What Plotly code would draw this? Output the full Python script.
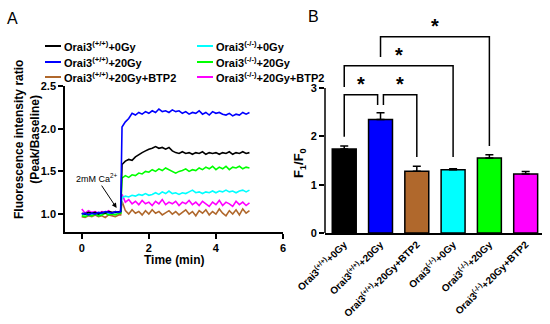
import plotly.graph_objects as go

# ---------------- data ----------------
time_min = [0.0, 0.1, 0.2, 0.3, 0.4, 0.5, 0.6, 0.7, 0.8, 0.9, 1.0, 1.1, 1.16,
            1.2, 1.3, 1.4, 1.5, 1.6, 1.7, 1.8, 1.9, 2.0, 2.1, 2.2, 2.3, 2.4, 2.5,
            2.6, 2.7, 2.8, 2.9, 3.0, 3.1, 3.2, 3.3, 3.4, 3.5, 3.6, 3.7, 3.8, 3.9,
            4.0, 4.1, 4.2, 4.3, 4.4, 4.5, 4.6, 4.7, 4.8, 4.9, 5.0]

wt_0gy = [1.01, 1.00, 1.02, 1.01, 1.02, 1.00, 1.02, 1.01, 1.03, 1.02, 1.02, 1.03, 1.03,
          1.58, 1.62, 1.64, 1.63, 1.67, 1.70, 1.72, 1.74, 1.76, 1.77, 1.79, 1.77, 1.78, 1.76,
          1.78, 1.74, 1.72, 1.71, 1.73, 1.71, 1.72, 1.70, 1.72, 1.71, 1.73, 1.70, 1.72, 1.71,
          1.72, 1.70, 1.72, 1.71, 1.73, 1.70, 1.72, 1.71, 1.73, 1.71, 1.72]
wt_20gy = [1.00, 1.01, 0.99, 1.01, 1.00, 1.02, 1.01, 1.03, 1.02, 1.01, 1.03, 1.02, 1.03,
           2.02, 2.08, 2.12, 2.18, 2.16, 2.19, 2.17, 2.20, 2.18, 2.21, 2.19, 2.23, 2.20, 2.21,
           2.19, 2.22, 2.20, 2.21, 2.18, 2.20, 2.17, 2.19, 2.18, 2.21, 2.17, 2.19, 2.16, 2.20,
           2.18, 2.19, 2.17, 2.16, 2.18, 2.15, 2.17, 2.16, 2.19, 2.17, 2.19]
wt_20gy_btp2 = [0.97, 0.96, 0.98, 0.97, 0.99, 0.97, 0.98, 0.96, 0.99, 0.98, 0.97, 0.99, 0.99,
                1.15, 1.04, 1.00, 1.05, 1.01, 1.03, 0.99, 1.04, 1.00, 1.05, 1.01, 1.03, 0.99, 1.02,
                1.04, 1.00, 1.03, 0.99, 1.02, 1.05, 1.00, 1.03, 0.98, 1.04, 1.01, 1.05, 0.99, 1.03,
                1.00, 1.06, 1.01, 0.98, 1.04, 1.00, 1.05, 0.99, 1.06, 1.01, 1.04]
ko_0gy = [1.00, 0.99, 1.01, 1.00, 1.01, 0.99, 1.00, 1.02, 1.00, 1.01, 1.02, 1.01, 1.02,
          1.19, 1.21, 1.20, 1.22, 1.21, 1.23, 1.22, 1.24, 1.22, 1.23, 1.25, 1.23, 1.26, 1.24,
          1.27, 1.24, 1.25, 1.23, 1.25, 1.24, 1.26, 1.28, 1.25, 1.26, 1.24, 1.26, 1.25, 1.27,
          1.25, 1.27, 1.26, 1.28, 1.26, 1.27, 1.25, 1.27, 1.28, 1.26, 1.28]
ko_20gy = [0.98, 0.97, 0.99, 0.98, 1.00, 0.98, 0.99, 1.01, 0.99, 1.00, 0.99, 1.01, 1.01,
           1.42, 1.45, 1.43, 1.46, 1.45, 1.48, 1.47, 1.50, 1.49, 1.52, 1.50, 1.53, 1.51, 1.54,
           1.52, 1.50, 1.48, 1.50, 1.51, 1.53, 1.50, 1.52, 1.51, 1.54, 1.52, 1.55, 1.53, 1.56,
           1.52, 1.55, 1.53, 1.56, 1.52, 1.55, 1.54, 1.56, 1.53, 1.55, 1.54]
ko_20gy_btp2 = [1.06, 1.01, 1.04, 1.02, 1.03, 1.01, 1.03, 1.02, 1.04, 1.01, 1.03, 1.02, 1.04,
                1.23, 1.14, 1.17, 1.12, 1.15, 1.11, 1.16, 1.12, 1.14, 1.10, 1.15, 1.12, 1.17, 1.11,
                1.14, 1.12, 1.15, 1.10, 1.14, 1.12, 1.16, 1.11, 1.14, 1.10, 1.15, 1.12, 1.09, 1.14,
                1.11, 1.16, 1.10, 1.14, 1.12, 1.09, 1.15, 1.11, 1.14, 1.10, 1.13]

group_labels = ["Orai3<sup>(+/+)</sup>+0Gy", "Orai3<sup>(+/+)</sup>+20Gy",
                "Orai3<sup>(+/+)</sup>+20Gy+BTP2", "Orai3<sup>(-/-)</sup>+0Gy",
                "Orai3<sup>(-/-)</sup>+20Gy", "Orai3<sup>(-/-)</sup>+20Gy+BTP2"]
bar_means = [1.74, 2.35, 1.28, 1.31, 1.55, 1.22]
bar_sem = [0.06, 0.14, 0.10, 0.02, 0.07, 0.05]

# significance brackets: (left group, right group, top, left leg bottom, right leg bottom)
brackets = [(0, 0.92, 2.86, 1.99, 2.65),
            (1.08, 2, 2.86, 2.65, 1.57),
            (0, 3, 3.46, 3.02, 1.57),
            (1, 4, 4.06, 3.64, 1.80)]

colors = ["#000000", "#0000FF", "#B0682C", "#00FFFF", "#00FF00", "#FF00FF"]
series = [wt_0gy, wt_20gy, wt_20gy_btp2, ko_0gy, ko_20gy, ko_20gy_btp2]

W, H = 550, 324
def px(x):
    return x / W
def py(y):
    return 1 - y / H

FONT = "Liberation Sans, Arial, sans-serif"

fig = go.Figure()

# ---------- panel A: time courses ----------
draw_order = [2, 5, 3, 4, 0, 1]
for i in draw_order:
    fig.add_trace(go.Scatter(x=time_min, y=series[i], mode="lines",
                             line=dict(color=colors[i], width=1.6),
                             xaxis="x", yaxis="y", showlegend=False))

# ---------- panel B: bars ----------
fig.add_trace(go.Bar(x=list(range(6)), y=bar_means, width=0.66,
                     marker=dict(color=colors, line=dict(color="black", width=1.5)),
                     error_y=dict(type="data", array=bar_sem, arrayminus=[0] * 6,
                                  symmetric=False, color="black", thickness=1.5, width=4),
                     xaxis="x2", yaxis="y2", showlegend=False))

shapes = []
for (x0, x1, top, b0, b1) in brackets:
    shapes.append(dict(type="path", xref="x2", yref="y2",
                       path=f"M {x0},{b0} L {x0},{top} L {x1},{top} L {x1},{b1}",
                       line=dict(color="black", width=1.5)))
# y axis line of panel B only from 0 to 3
shapes.append(dict(type="line", xref="x2 domain", yref="y2", x0=0, x1=0, y0=0, y1=3,
                   line=dict(color="black", width=1.5)))

annotations = []
for (x0, x1, top, b0, b1) in brackets:
    annotations.append(dict(x=(x0 + x1) / 2, y=top, xref="x2", yref="y2", text="<b>*</b>",
                            showarrow=False, xanchor="center", yanchor="bottom", yshift=-2,
                            font=dict(family=FONT, size=20, color="black")))

# legend drawn by hand
legend_pos = [(45, 46), (45, 62), (45, 77), (197, 46), (197, 62), (197, 77)]
for i, (lx, ly) in enumerate(legend_pos):
    shapes.append(dict(type="line", xref="paper", yref="paper",
                       x0=px(lx), x1=px(lx + 16), y0=py(ly), y1=py(ly),
                       line=dict(color=colors[i], width=2)))
    annotations.append(dict(x=px(lx + 17), y=py(ly), xref="paper", yref="paper",
                            text=group_labels[i], showarrow=False, xanchor="left",
                            yanchor="middle",
                            font=dict(family=FONT, size=11, color="black", weight="bold")))

# arrow annotation
annotations.append(dict(x=1.04, y=1.07, xref="x", yref="y", text="2mM Ca<sup>2+</sup>",
                        showarrow=True, arrowhead=2, arrowsize=1, arrowwidth=1,
                        arrowcolor="black", ax=-20, ay=-30,
                        font=dict(family=FONT, size=9, color="black")))

def label(x, y, text, size, bold=True, angle=0):
    f = dict(family=FONT, size=size, color="black")
    if bold:
        f["weight"] = "bold"
    return dict(x=px(x), y=py(y), xref="paper", yref="paper", text=text,
                showarrow=False, xanchor="center", yanchor="middle",
                textangle=angle, font=f)

annotations.append(label(12, 18, "A", 16, bold=False))
annotations.append(label(313, 16, "B", 16, bold=False))
annotations.append(label(27, 140, "Fluorescence intensity ratio<br>(Peak/Baseline)", 12, angle=-90))
annotations.append(label(174, 260, "Time (min)", 12))
annotations.append(label(299, 163, "F<sub>1</sub>/F<sub>0</sub>", 13, angle=-90))

tickfont = dict(family=FONT, size=11, color="black", weight="bold")

fig.update_layout(
    width=W, height=H,
    margin=dict(l=0, r=0, t=0, b=0, autoexpand=False),
    paper_bgcolor="white", plot_bgcolor="white",
    shapes=shapes, annotations=annotations,
    xaxis=dict(domain=[px(65), px(283)], range=[-0.5, 6.0], tickvals=[0, 2, 4, 6],
               showline=True, linecolor="black", linewidth=1.5, ticks="outside",
               ticklen=5, tickwidth=1.5, tickcolor="black", showgrid=False, zeroline=False,
               tickfont=tickfont, anchor="y", automargin=False),
    yaxis=dict(domain=[py(232), py(86)], range=[0.79, 2.5], tickvals=[1.0, 1.5, 2.0, 2.5],
               tickformat=".1f", showline=True, linecolor="black", linewidth=1.5,
               ticks="outside", ticklen=5, tickwidth=1.5, tickcolor="black",
               showgrid=False, zeroline=False, tickfont=tickfont, anchor="x",
               automargin=False),
    xaxis2=dict(domain=[px(325), px(542)], range=[-0.53, 5.45], tickvals=list(range(6)),
                ticktext=group_labels, tickangle=-45, showline=True, linecolor="black",
                linewidth=1.5, ticks="", showgrid=False, zeroline=False,
                tickfont=dict(family=FONT, size=10, color="black", weight="bold"),
                anchor="y2", automargin=False),
    yaxis2=dict(domain=[py(233), py(15.5)], range=[0, 4.5], tickvals=[0, 1, 2, 3],
                showline=False, ticks="outside", ticklen=5, tickwidth=1.5,
                tickcolor="black", showgrid=False, zeroline=False, tickfont=tickfont,
                anchor="x2", automargin=False),
)

fig.write_html("out.html", config={"displayModeBar": False},
               post_script="document.body.style.margin='0';")
